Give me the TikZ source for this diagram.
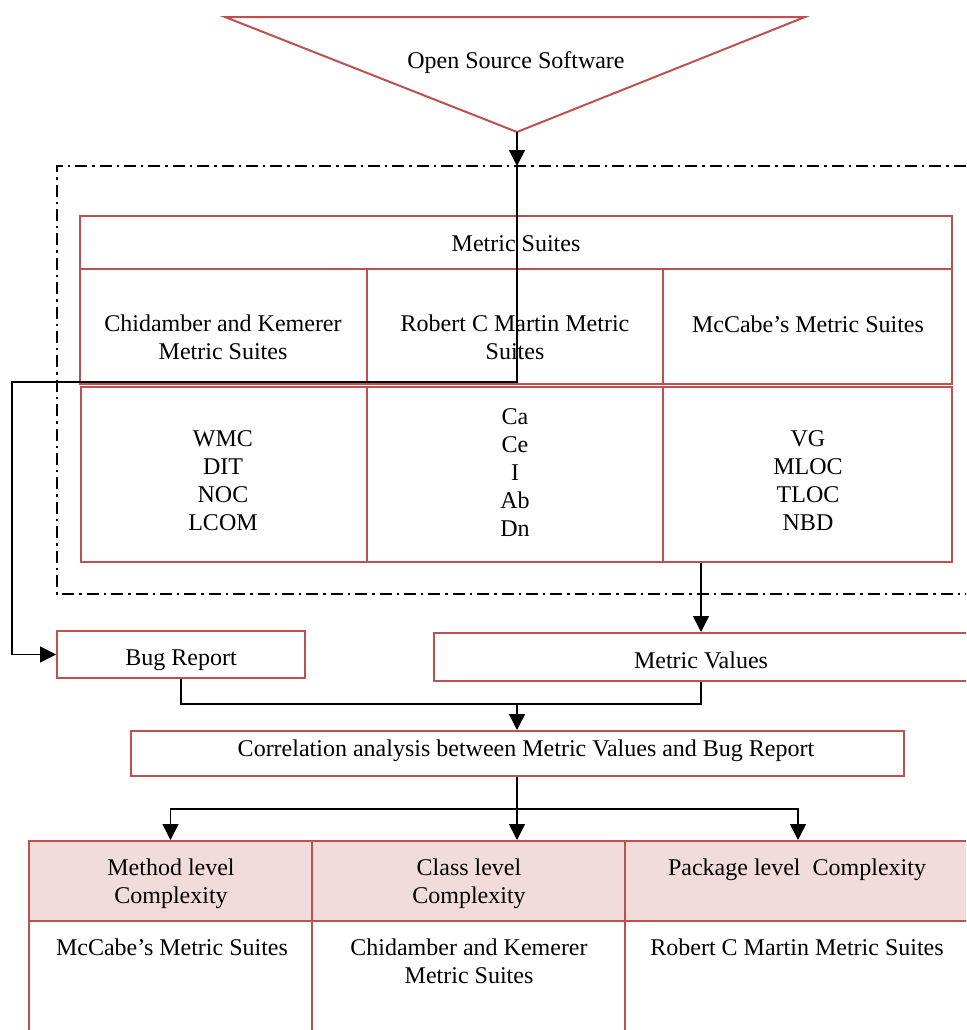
\documentclass[tikz,border=0pt]{standalone}
\usepackage{fontspec}
\setmainfont{Liberation Serif}
\usetikzlibrary{arrows.meta,calc}

\definecolor{cellred}{HTML}{C0504D}
\definecolor{cellpink}{HTML}{F2DCDB}

\begin{document}
\begin{tikzpicture}[
                x=0.5pt, y=-0.5pt,
                every node/.append style={font=\fontsize{12}{14}\selectfont, align=center, inner sep=0pt},
                cell/.style={rectangle, draw=cellred, line width=1pt, fill=white},
                head/.style={cell, fill=cellpink},
                wire/.style={line width=0.75pt},
                flow/.style={wire, -{Triangle[length=8pt,width=8pt]}},
                frame/.style={line width=1pt, dash pattern=on 6pt off 2.5pt on 1.2pt off 2.5pt}
            ]
                \clip (0,0) rectangle (966,1030);

                % source
                \draw[cellred, line width=1pt] (225,17) -- (805,17) -- (517,132) -- cycle;
                \node (oss) at (516,63) {Open Source Software};
                \coordinate (apex) at (517,132);

                % dash-dotted frame round the suites
                \draw[frame] (990,166) -- (57,166) -- (57,594) -- (990,594);
                \coordinate (entry) at (517,166);

                % metric suites table
                \node (suites) [cell, minimum width=436pt, minimum height=26.5pt] at (516,242.5) {};
                \node (ck)  [cell, minimum width=143.5pt, minimum height=57.5pt] at (223.5,326.5) {};
                \node (rcm) [cell, minimum width=148pt,   minimum height=57.5pt] at (515,326.5)   {};
                \node (mcc) [cell, minimum width=144.5pt, minimum height=57.5pt] at (807.5,326.5) {};
                \node (ck-list)  [cell, minimum width=143pt,   minimum height=87.5pt] at (224,474.5)   {};
                \node (rcm-list) [cell, minimum width=148pt,   minimum height=87.5pt] at (515,474.5)   {};
                \node (mcc-list) [cell, minimum width=144.5pt, minimum height=87.5pt] at (807.5,474.5) {};

                \node (suites-t)   at (516,244)   {Metric Suites};
                \node (ck-t)       at (223,337.5) {Chidamber and Kemerer\\Metric Suites};
                \node (rcm-t)      at (515,337.5) {Robert C Martin Metric\\Suites};
                \node (mcc-t)      at (808,324)   {McCabe's Metric Suites};
                \node (ck-list-t)  at (223,481)   {WMC\\DIT\\NOC\\LCOM};
                \node (rcm-list-t) at (515,473)   {Ca\\Ce\\I\\Ab\\Dn};
                \node (mcc-list-t) at (808,481)   {VG\\MLOC\\TLOC\\NBD};

                % inputs of the analysis
                \node (bug)    [cell, minimum width=124pt, minimum height=23.5pt] at (181,654.5) {};
                \node (values) [cell, minimum width=267pt, minimum height=24pt]   at (701,657)   {};
                \node (corr)   [cell, minimum width=386.5pt, minimum height=22.5pt] at (517.5,753.5) {};
                \node (bug-t)    at (181,660) {Bug Report};
                \node (values-t) at (701,660) {Metric Values};
                \node (corr-t)   at (526,751) {Correlation analysis between Metric Values and Bug Report};

                % complexity levels
                \node (method)  [head, minimum width=141.5pt, minimum height=40pt] at (170.5,881) {};
                \node (class)   [head, minimum width=156.5pt, minimum height=40pt] at (468.5,881) {};
                \node (package) [head, minimum width=173pt,   minimum height=40pt] at (798,881)   {};
                \node (method-b)  [cell, minimum width=141.5pt, minimum height=64.5pt] at (170.5,985.5) {};
                \node (class-b)   [cell, minimum width=156.5pt, minimum height=64.5pt] at (468.5,985.5) {};
                \node (package-b) [cell, minimum width=173pt,   minimum height=64.5pt] at (798,985.5)   {};

                \node (method-t)    at (171,884)   {Method level\\Complexity};
                \node (class-t)     at (469,884)   {Class level\\Complexity};
                \node (package-t)   at (797,870)   {Package level\ \ Complexity};
                \node (method-b-t)  at (172,947)   {McCabe's Metric Suites};
                \node (class-b-t)   at (469,961.5) {Chidamber and Kemerer\\Metric Suites};
                \node (package-b-t) at (797,947)   {Robert C Martin Metric Suites};

                % connectors
                \coordinate (bend)  at (12,382);
                \coordinate (join)  at (517,704);
                \coordinate (split) at (517,809);
                \draw[flow] (apex) -- (entry);
                \draw[flow] (entry) |- (bend) |- (bug.west);
                \draw[flow] (values.north |- mcc-list.south) -- (values.north);
                \draw[wire] (bug.south) |- (join) -| (values.south);
                \draw[flow] (join) -- (join |- corr.north);
                \draw[wire] (split |- corr.south) -- (split);
                \draw[flow] (split) -| (method.north);
                \draw[flow] (split) -- (split |- class.north);
                \draw[flow] (split) -| (package.north);
            \end{tikzpicture}
\end{document}
